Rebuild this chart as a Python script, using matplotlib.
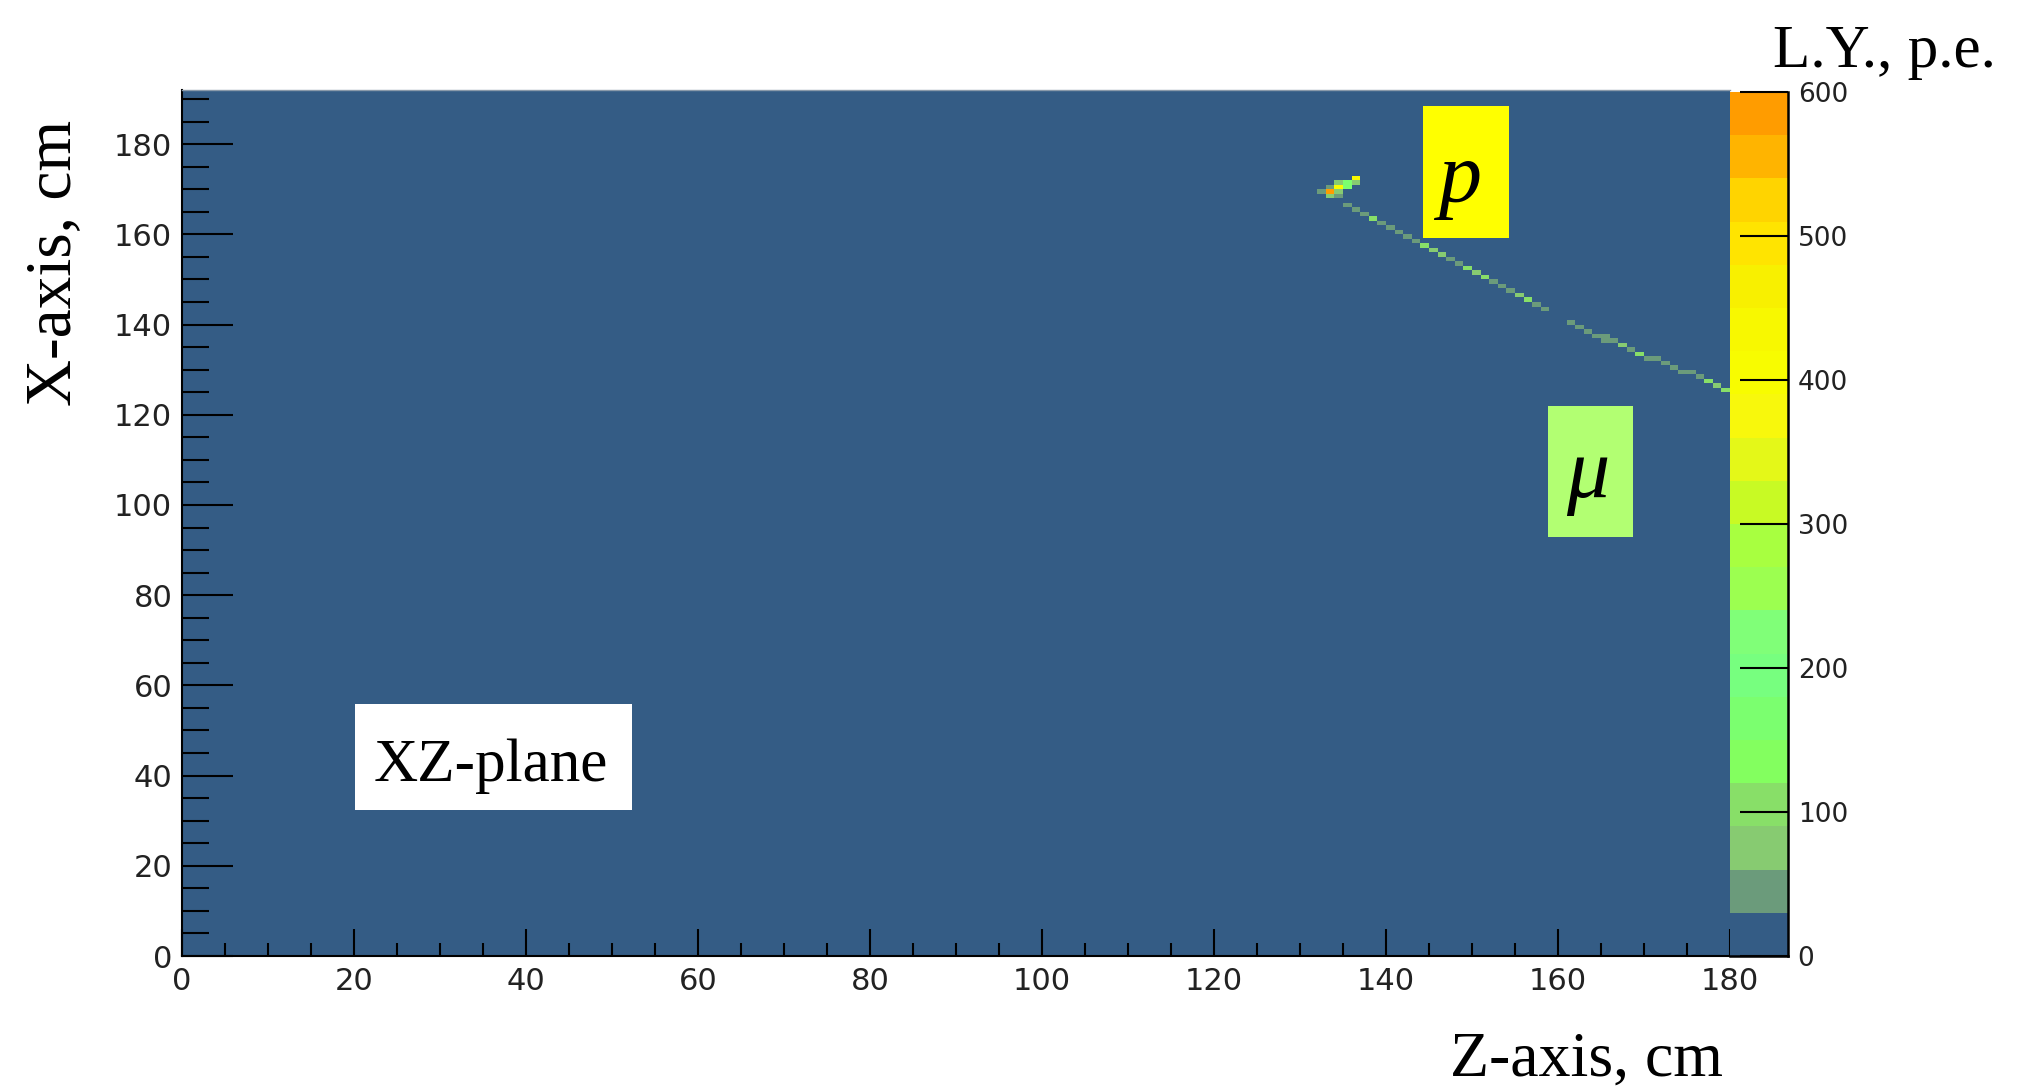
import numpy as np
import matplotlib
matplotlib.use("Agg")
import matplotlib.pyplot as plt
from matplotlib.colors import ListedColormap, BoundaryNorm
from matplotlib.patches import Rectangle

# ---- event display data: light yield (p.e.) per 1x1 cm cell, XZ projection ----
z_edges_max = 190
x_edges_max = 192

# proton cluster near the vertex
proton_z = [136, 134, 135, 136, 133, 134, 135, 132, 133, 134, 133, 134]
proton_x = [172, 171, 171, 171, 170, 170, 170, 169, 169, 169, 168, 168]
proton_ly = [440, 75, 170, 75, 50, 400, 170, 45, 575, 60, 75, 50]

# muon track leaving the vertex
muon_z = [135, 136, 137, 138, 139, 140, 141, 142, 143,
          144, 145, 146, 147, 148, 149, 150, 151, 152, 153, 154,
          155, 156, 157, 158,
          161, 162, 163, 164, 165, 165, 166, 167, 168, 169, 170, 171,
          172, 173, 174, 175, 176, 177, 178, 179, 180, 181]
muon_x = [166, 165, 164, 163, 162, 161, 160, 159, 158,
          157, 156, 155, 154, 153, 152, 151, 150, 149, 148, 147,
          146, 145, 144, 143,
          140, 139, 138, 137, 137, 136, 136, 135, 134, 133, 132, 132,
          131, 130, 129, 129, 128, 127, 126, 125, 124, 123]
muon_ly = [45, 45, 45, 105, 45, 45, 45, 45, 40,
           105, 75, 75, 45, 45, 105, 75, 105, 35, 45, 45,
           75, 105, 45, 45,
           45, 45, 45, 45, 45, 40, 45, 75, 45, 105, 45, 45,
           35, 45, 45, 45, 45, 105, 75, 105, 75, 75]

# colour palette: 20 contour levels from 0 to 600 p.e.
ly_levels = list(range(0, 630, 30))
palette = ['#345c85', '#6b9b7b', '#87cb71', '#88df68', '#83ff5f',
           '#7bff6f', '#77ff7f', '#80ff78', '#9cff50', '#a8ff40',
           '#c8fa24', '#e4f818', '#f8f80c', '#f8fc00', '#f8f800',
           '#f8f000', '#ffe400', '#ffd400', '#ffb400', '#ff9c00']

x_ticks = list(range(0, 181, 20))
y_ticks = list(range(0, 181, 20))
cbar_ticks = list(range(0, 601, 100))

# ---- build the 2D histogram ----
H = np.zeros((x_edges_max, z_edges_max))
for z, x, v in zip(proton_z + muon_z, proton_x + muon_x, proton_ly + muon_ly):
    H[x, z] = v
z_edges = np.arange(z_edges_max + 1)
x_edges = np.arange(x_edges_max + 1)

W, Hpx = 2023, 1087
fig = plt.figure(figsize=(W / 100, Hpx / 100), dpi=100)


def fx(px):
    return px / W


def fy(py):
    return 1 - py / Hpx


bg = palette[0]
cmap = ListedColormap(palette)
norm = BoundaryNorm(ly_levels, ncolors=len(palette))

ax = fig.add_axes([fx(182), fy(956), fx(1730) - fx(182), fy(90) - fy(956)])
ax.set_facecolor(bg)
mesh = ax.pcolormesh(z_edges, x_edges, H, cmap=cmap, norm=norm, shading='flat')
ax.set_xlim(0, 180)
ax.set_ylim(0, 192)

tick_font = dict(family='DejaVu Sans', size=22)
ax.set_xticks(x_ticks)
ax.set_yticks(y_ticks)
ax.set_xticks(np.arange(0, 181, 5), minor=True)
ax.set_yticks(np.arange(0, 192, 5), minor=True)
ax.set_xticklabels([str(t) for t in x_ticks], fontdict=tick_font, color='#222222')
ax.set_yticklabels([str(t) for t in y_ticks], fontdict=tick_font, color='#222222')
ax.tick_params(axis='x', which='major', direction='in', length=19.4, width=1.5, pad=8)
ax.tick_params(axis='x', which='minor', direction='in', length=9.4, width=1.5)
ax.tick_params(axis='y', which='major', direction='in', length=36.7, width=1.5, pad=7)
ax.tick_params(axis='y', which='minor', direction='in', length=19.4, width=1.5)
for side in ('left', 'bottom'):
    ax.spines[side].set_color('black')
    ax.spines[side].set_linewidth(1.5)
ax.spines['right'].set_visible(False)
ax.spines['top'].set_color('#8a9aaa')
ax.spines['top'].set_linewidth(1.0)

# palette axis on the right
cax = fig.add_axes([fx(1730), fy(956), fx(1788) - fx(1730), fy(92) - fy(956)])
cb = fig.colorbar(mesh, cax=cax, ticks=cbar_ticks, spacing='proportional')
cb.outline.set_visible(False)
cax.set_yticklabels([str(t) for t in cbar_ticks], fontdict=dict(family='DejaVu Sans', size=19),
                    color='#222222')
cax.tick_params(axis='y', which='major', direction='in', length=34.6, width=1.5, pad=7,
                right=True, left=False, labelright=True, labelleft=False)
cax.minorticks_off()
for side in ('right', 'bottom'):
    cax.spines[side].set_visible(True)
    cax.spines[side].set_color('black')
    cax.spines[side].set_linewidth(1.8)

serif = 'Liberation Serif'
fig.text(fx(1773), fy(67), 'L.Y., p.e.', family=serif, size=44, ha='left', va='baseline')
fig.text(fx(1723), fy(1076), 'Z-axis, cm', family=serif, size=46, ha='right', va='baseline')
fig.text(fx(54), fy(263), 'X-axis, cm', family=serif, size=47, rotation=90,
         ha='center', va='center')

# labels on the event display
fig.patches.append(Rectangle((fx(355), fy(810)), fx(632) - fx(355), fy(704) - fy(810),
                             transform=fig.transFigure, facecolor='white', edgecolor='none',
                             zorder=5))
fig.text(fx(491), fy(781), 'XZ-plane', family=serif, size=44, ha='center', va='baseline',
         zorder=6)

fig.patches.append(Rectangle((fx(1423), fy(238)), fx(1509) - fx(1423), fy(106) - fy(238),
                             transform=fig.transFigure, facecolor='#ffff00', edgecolor='none',
                             zorder=5))
fig.text(fx(1460), fy(201), 'p', family=serif, style='italic', size=62, ha='center',
         va='baseline', zorder=6)

fig.patches.append(Rectangle((fx(1548), fy(537)), fx(1633) - fx(1548), fy(406) - fy(537),
                             transform=fig.transFigure, facecolor='#b2ff72', edgecolor='none',
                             zorder=5))
fig.text(fx(1588), fy(497), 'μ', family=serif, style='italic', size=62, ha='center',
         va='baseline', zorder=6)

fig.savefig('out.png', dpi=100)
